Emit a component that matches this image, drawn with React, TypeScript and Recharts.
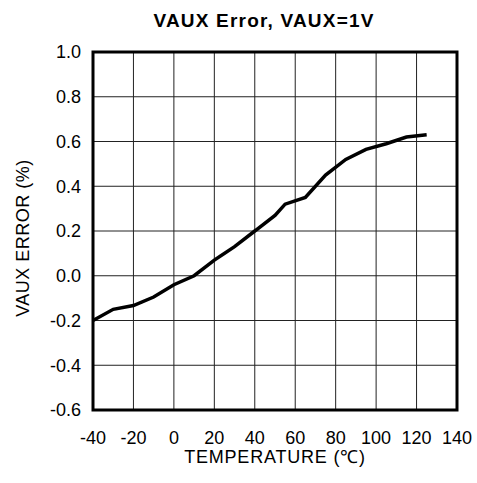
import type { ReactElement } from 'react'
import { CartesianGrid, Label, Line, LineChart, ReferenceArea, XAxis, YAxis } from 'recharts'

// VAUX error vs temperature, VAUX = 1V
const TEMPS = [-40, -30, -20, -10, 0, 10, 20, 30, 40, 50, 55, 65, 75, 85, 95, 105, 115, 125]
const ERROR_PCT = [-0.2, -0.15, -0.133, -0.095, -0.04, 0.0, 0.07, 0.13, 0.2, 0.27, 0.32, 0.35, 0.45, 0.52, 0.565, 0.59, 0.62, 0.63]

const X_TICKS = [-40, -20, 0, 20, 40, 60, 80, 100, 120, 140]
const Y_TICKS = [-0.6, -0.4, -0.2, 0, 0.2, 0.4, 0.6, 0.8, 1.0]

const data = TEMPS.map((t, i) => ({ temp: t, err: ERROR_PCT[i] }))

const FONT = '"Liberation Sans", Arial, sans-serif'
const TICK = { fill: '#000', fontSize: 18, fontFamily: FONT }

export default function App(): ReactElement {
  return (
    <div style={{ position: 'absolute', left: 0, top: 0, width: 477, height: 483, background: '#fff' }}>
      <div
        style={{
          position: 'absolute', left: 0, top: 10, width: 528, textAlign: 'center',
          fontFamily: FONT, fontWeight: 'bold', fontSize: 19, letterSpacing: 1.2, color: '#000'
        }}
      >
        VAUX Error, VAUX=1V
      </div>
      <LineChart
        width={477}
        height={483}
        data={data}
        margin={{ top: 52, right: 20, bottom: 0, left: 0 }}
      >
        <CartesianGrid stroke="#222" strokeWidth={1} horizontalValues={Y_TICKS} verticalValues={X_TICKS} />
        <XAxis
          dataKey="temp"
          type="number"
          domain={[-40, 140]}
          ticks={X_TICKS}
          height={73}
          tickLine={false}
          axisLine={false}
          tickMargin={15}
          tick={TICK}
          interval={0}
        >
          <Label
            value="TEMPERATURE (℃)"
            position="insideBottom"
            offset={20}
            style={{ fill: '#000', fontSize: 18, letterSpacing: 0.8, fontFamily: FONT }}
          />
        </XAxis>
        <YAxis
          type="number"
          domain={[-0.6, 1.0]}
          ticks={Y_TICKS}
          width={93}
          tickLine={false}
          axisLine={false}
          tickMargin={6}
          tick={TICK}
          interval={0}
          tickFormatter={(v: number) => v.toFixed(1)}
        >
          <Label
            content={() => (
              <text
                x={29}
                y={238}
                transform="rotate(-90 29 238)"
                textAnchor="middle"
                fill="#000"
                fontSize={18}
                fontFamily={FONT}
                letterSpacing={0.5}
              >
                VAUX ERROR (%)
              </text>
            )}
          />
        </YAxis>
        <ReferenceArea x1={-40} x2={140} y1={-0.6} y2={1.0} fill="none" stroke="#000" strokeWidth={3} ifOverflow="visible" />
        <Line
          type="linear"
          dataKey="err"
          stroke="#000"
          strokeWidth={3.5}
          dot={false}
          isAnimationActive={false}
        />
      </LineChart>
    </div>
  )
}
